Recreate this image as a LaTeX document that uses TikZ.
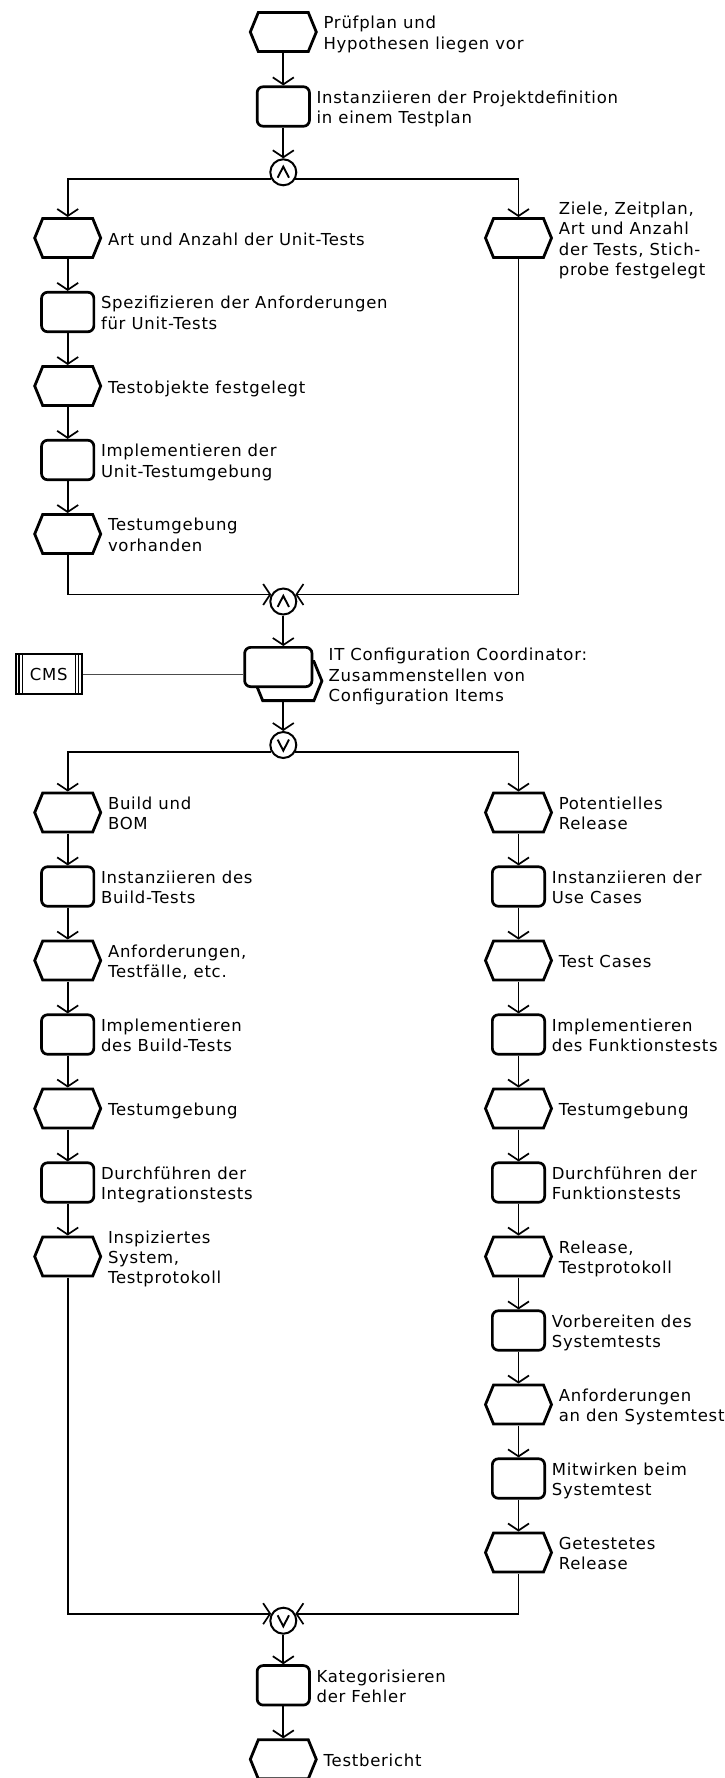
\documentclass[tikz,border=0pt]{standalone}
\usepackage{fontspec}
\newfontfamily\lblfont{DejaVu Sans}[LetterSpace=4.5]
\usetikzlibrary{arrows.meta}
\pgfdeclarelayer{bg}
\pgfsetlayers{bg,main}
\newcommand\tstrut{\rule[-4pt]{0pt}{16pt}}
\tikzset{
 conn/.style={line width=1.7pt, -{Straight Barb[length=7pt,width=21pt]}},
 cmsline/.style={line width=1pt, draw=black!70},
 evframe/.style={rectangle, minimum width=69pt, minimum height=42pt, inner sep=0pt, outer sep=0pt},
 evline/.style={draw, line width=2.8pt, fill=white, line join=miter},
 fn/.style={rectangle, rounded corners=6pt, draw, line width=2.7pt, fill=white, minimum width=52.3pt, minimum height=39.5pt, inner sep=0pt},
 conj/.style={circle, draw, line width=2pt, fill=white, minimum size=26pt, inner sep=0pt},
 sym/.style={line width=1.9pt, line join=miter},
 lblfnt/.style={font=\lblfont\fontsize{16.5pt}{20.3pt}\selectfont},
 lbl/.style={lblfnt, anchor=west, align=left, inner sep=0pt, yshift=-2.8pt, execute at begin node=\tstrut, execute at end node=\tstrut},
}
\newcommand\EvtNode[4]{%
  \node[evframe] (#1) at (#2,#3) {};
  \path[evline] (#2,#3) ++(-33,0) -- ++(8,-19.5) -- ++(50,0) -- ++(8,19.5) -- ++(-8,19.5) -- ++(-50,0) -- cycle;
  \node[lbl] (#1t) at ([xshift=5.6pt]#1.east) {#4};}
\newcommand\FnNode[4]{%
  \node[fn] (#1) at (#2,#3) {};
  \node[lbl] (#1t) at ([xshift=5.6pt]#1.east) {#4};}
\newcommand\AndSym[1]{\draw[sym] ([shift={(-5.7,5.4)}]#1.center) -- ([shift={(0,-5.6)}]#1.center) -- ([shift={(5.7,5.4)}]#1.center);}
\newcommand\OrSym[1]{\draw[sym] ([shift={(-5.7,-5.4)}]#1.center) -- ([shift={(0,5.6)}]#1.center) -- ([shift={(5.7,-5.4)}]#1.center);}
\begin{document}
\begin{tikzpicture}[x=1pt,y=-1pt]
\useasboundingbox (0,0) rectangle (724,1778);
\begin{pgfonlayer}{bg}
\fill[white] (0,0) rectangle (724,1778);
\end{pgfonlayer}
% top
\EvtNode{e1}{283.3}{32}{Prüfplan und\\Hypothesen liegen vor}
\FnNode{f1}{283.3}{106.5}{Instanziieren der Projektdefinition\\in einem Testplan}
\node[conj] (and1) at (283.3,172.3) {}; \AndSym{and1}
% upper left
\EvtNode{ul1}{67.7}{238}{Art und Anzahl der Unit-Tests}
\FnNode{ul2}{67.7}{312}{Spezifizieren der Anforderungen\\für Unit-Tests}
\EvtNode{ul3}{67.7}{386}{Testobjekte festgelegt}
\FnNode{ul4}{67.7}{460}{Implementieren der\\Unit-Testumgebung}
\EvtNode{ul5}{67.7}{534}{Testumgebung\\vorhanden}
% upper right
\EvtNode{ur1}{518.5}{238}{Ziele, Zeitplan,\\Art und Anzahl\\der Tests, Stich-\\probe festgelegt}
\node[conj] (and2) at (283.3,601.5) {}; \AndSym{and2}
% process interface
\node[evframe, minimum width=70pt] (pih) at (288.3,681) {};
\path[evline] (288.3,681) ++(-33.6,0) -- ++(8,-19.6) -- ++(51.2,0) -- ++(8,19.6) -- ++(-8,19.6) -- ++(-51.2,0) -- cycle;
\node[fn, minimum width=67.3pt, minimum height=39.3pt] (pi) at (278.3,667) {};
\node[lbl] (pit) at (328.5,674) {IT Configuration Coordinator:\\Zusammenstellen von\\Configuration Items};
\node[draw, line width=1.7pt, minimum width=66pt, minimum height=40.3pt, inner sep=0pt, outer sep=0pt, lblfnt] (cms) at (48.8,674) {CMS};
\draw[line width=1.2pt] ([xshift=3.1pt]cms.north west) -- ([xshift=3.1pt]cms.south west);
\draw[line width=1.2pt] ([xshift=6.7pt]cms.north west) -- ([xshift=6.7pt]cms.south west);
\draw[line width=1.2pt] ([xshift=-3.1pt]cms.north east) -- ([xshift=-3.1pt]cms.south east);
\draw[line width=1.2pt] ([xshift=-6.7pt]cms.north east) -- ([xshift=-6.7pt]cms.south east);
\node[conj] (or1) at (283.3,745) {}; \OrSym{or1}
% lower left
\EvtNode{ll1}{67.7}{812.5}{Build und\\BOM}
\FnNode{ll2}{67.7}{886.5}{Instanziieren des\\Build-Tests}
\EvtNode{ll3}{67.7}{960.5}{Anforderungen,\\Testfälle, etc.}
\FnNode{ll4}{67.7}{1034.5}{Implementieren\\des Build-Tests}
\EvtNode{ll5}{67.7}{1108.5}{Testumgebung}
\FnNode{ll6}{67.7}{1182.5}{Durchführen der\\Integrationstests}
\EvtNode{ll7}{67.7}{1256.5}{Inspiziertes\\System,\\Testprotokoll}
% lower right
\EvtNode{lr1}{518.5}{812.5}{Potentielles\\Release}
\FnNode{lr2}{518.5}{886.5}{Instanziieren der\\Use Cases}
\EvtNode{lr3}{518.5}{960.5}{Test Cases}
\FnNode{lr4}{518.5}{1034.5}{Implementieren\\des Funktionstests}
\EvtNode{lr5}{518.5}{1108.5}{Testumgebung}
\FnNode{lr6}{518.5}{1182.5}{Durchführen der\\Funktionstests}
\EvtNode{lr7}{518.5}{1256.5}{Release,\\Testprotokoll}
\FnNode{lr8}{518.5}{1330.5}{Vorbereiten des\\Systemtests}
\EvtNode{lr9}{518.5}{1404.5}{Anforderungen\\an den Systemtest}
\FnNode{lr10}{518.5}{1478.5}{Mitwirken beim\\Systemtest}
\EvtNode{lr11}{518.5}{1552.5}{Getestetes\\Release}
\node[conj] (or2) at (283.3,1620.7) {}; \OrSym{or2}
\FnNode{f9}{283.3}{1685.3}{Kategorisieren\\der Fehler}
\EvtNode{e9}{283.3}{1759.3}{Testbericht}
% connectors
\begin{pgfonlayer}{bg}
\draw[conn] (e1) -- (f1);
\draw[conn] (f1) -- (and1);
\draw[conn] (and1.210) -| (ul1.north);
\draw[conn] (and1.330) -| (ur1.north);
\draw[conn] (ul1) -- (ul2);
\draw[conn] (ul2) -- (ul3);
\draw[conn] (ul3) -- (ul4);
\draw[conn] (ul4) -- (ul5);
\draw[conn] (ul5.south) |- (and2.150);
\draw[conn] (ur1.south) |- (and2.30);
\draw[conn] (and2.south) -- (and2.south |- pi.north);
\draw[cmsline] (cms.east) -- (cms.east -| pi.west);
\draw[conn] (or1.north |- pih.south) -- (or1.north);
\draw[conn] (or1.210) -| (ll1.north);
\draw[conn] (or1.330) -| (lr1.north);
\draw[conn] (ll1) -- (ll2);
\draw[conn] (ll2) -- (ll3);
\draw[conn] (ll3) -- (ll4);
\draw[conn] (ll4) -- (ll5);
\draw[conn] (ll5) -- (ll6);
\draw[conn] (ll6) -- (ll7);
\draw[conn] (lr1) -- (lr2);
\draw[conn] (lr2) -- (lr3);
\draw[conn] (lr3) -- (lr4);
\draw[conn] (lr4) -- (lr5);
\draw[conn] (lr5) -- (lr6);
\draw[conn] (lr6) -- (lr7);
\draw[conn] (lr7) -- (lr8);
\draw[conn] (lr8) -- (lr9);
\draw[conn] (lr9) -- (lr10);
\draw[conn] (lr10) -- (lr11);
\draw[conn] (ll7.south) |- (or2.150);
\draw[conn] (lr11.south) |- (or2.30);
\draw[conn] (or2) -- (f9);
\draw[conn] (f9) -- (e9);
\end{pgfonlayer}
\end{tikzpicture}
\end{document}
